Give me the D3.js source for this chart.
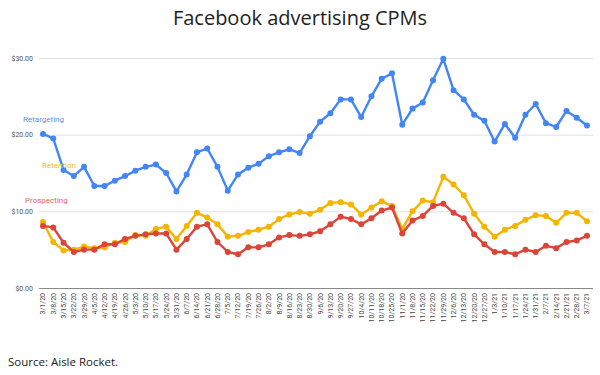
<!DOCTYPE html>
<html>
<head>
<meta charset="utf-8">
<script src="https://cdn.jsdelivr.net/npm/d3@7"></script>
<style>
  body { margin: 0; background: #fff; }
  svg { display: block; }
</style>
</head>
<body>
<div id="wrapper"></div>
<script>
let weeks = ["3/1/20", "3/8/20", "3/15/20", "3/22/20", "3/29/20", "4/5/20", "4/12/20", "4/19/20",
  "4/26/20", "5/3/20", "5/10/20", "5/17/20", "5/24/20", "5/31/20", "6/7/20", "6/14/20", "6/21/20",
  "6/28/20", "7/5/20", "7/12/20", "7/19/20", "7/26/20", "8/2/20", "8/9/20", "8/16/20", "8/23/20",
  "8/30/20", "9/6/20", "9/13/20", "9/20/20", "9/27/20", "10/4/20", "10/11/20", "10/18/20",
  "10/25/20", "11/1/20", "11/8/20", "11/15/20", "11/22/20", "11/29/20", "12/6/20", "12/13/20",
  "12/20/20", "12/27/20", "1/3/21", "1/10/21", "1/17/21", "1/24/21", "1/31/21", "2/7/21",
  "2/14/21", "2/21/21", "2/28/21", "3/7/21"];

let retargeting = [20.1, 19.5, 15.4, 14.6, 15.8, 13.3, 13.3, 14.0, 14.6, 15.3, 15.8, 16.1, 15.0,
  12.6, 14.8, 17.7, 18.2, 15.8, 12.7, 14.8, 15.7, 16.2, 17.2, 17.7, 18.1, 17.6, 19.8, 21.7,
  22.8, 24.6, 24.6, 22.3, 25.0, 27.3, 28.0, 21.3, 23.4, 24.2, 27.1, 29.9, 25.8, 24.6, 22.6,
  21.8, 19.1, 21.4, 19.6, 22.6, 24.0, 21.5, 21.0, 23.1, 22.2, 21.2];

let retention = [8.6, 6.0, 4.9, 5.0, 5.4, 5.2, 5.3, 5.9, 6.0, 6.9, 6.8, 7.7, 8.0, 6.4, 8.1, 9.8,
  9.2, 8.3, 6.7, 6.8, 7.3, 7.6, 8.0, 9.0, 9.6, 9.9, 9.7, 10.2, 11.1, 11.2, 10.9, 9.6, 10.5,
  11.3, 10.7, 7.7, 10.0, 11.4, 11.2, 14.5, 13.5, 12.1, 9.7, 8.0, 6.7, 7.6, 8.1, 8.9, 9.5, 9.4,
  8.5, 9.8, 9.8, 8.7];

let prospecting = [8.1, 7.9, 5.9, 4.7, 5.0, 5.0, 5.7, 5.7, 6.4, 6.8, 7.0, 7.1, 7.1, 5.0, 6.4, 8.0,
  8.3, 6.0, 4.7, 4.4, 5.3, 5.3, 5.7, 6.6, 6.9, 6.8, 7.0, 7.4, 8.3, 9.3, 9.0, 8.3, 9.1, 10.1,
  10.5, 7.1, 8.8, 9.4, 10.7, 11.0, 9.8, 9.1, 7.0, 5.7, 4.7, 4.7, 4.4, 5.0, 4.7, 5.5, 5.2, 6.0,
  6.2, 6.8];

let yTicks = [0, 10, 20, 30];

let series = [
  { name: "Retention", values: retention, color: "#f4b400", label: "#f2b928", lx: 42, ly: 168 },
  { name: "Prospecting", values: prospecting, color: "#db4437", label: "#e06666", lx: 25, ly: 203 },
  { name: "Retargeting", values: retargeting, color: "#4285f4", label: "#5a90e6", lx: 23, ly: 122 }
];

function drawChart() {
  const width = 600;
  const height = 375;

  let svg = d3
    .select("#wrapper")
    .append("svg")
    .attr("width", width)
    .attr("height", height);

  svg
    .append("text")
    .attr("x", 300)
    .attr("y", 25)
    .attr("text-anchor", "middle")
    .attr("font-family", "Open Sans")
    .attr("font-size", 20)
    .attr("fill", "#222")
    .text("Facebook advertising CPMs");

  let xScale = d3.scalePoint().domain(weeks).range([43, 587]);
  let yScale = d3.scaleLinear().domain([0, 30]).range([288, 58]);

  // gridlines + y labels
  let yAxis = svg
    .append("g")
    .attr("transform", "translate(39, 0)")
    .call(
      d3
        .axisLeft(yScale)
        .tickValues(yTicks)
        .tickSize(-554)
        .tickPadding(6)
        .tickFormat(d => "$" + d.toFixed(2))
    );
  yAxis.select(".domain").remove();
  yAxis
    .selectAll(".tick line")
    .attr("stroke", d => (d === 0 ? "#888" : "#e0e0e0"))
    .attr("stroke-width", 1);
  yAxis
    .selectAll(".tick text")
    .attr("font-family", "Roboto, Arial, sans-serif")
    .attr("font-size", 7)
    .attr("fill", "#555");

  // x labels, rotated
  svg
    .append("g")
    .selectAll("text")
    .data(weeks)
    .join("text")
    .attr("transform", d => `translate(${xScale(d)}, 293) rotate(-90)`)
    .attr("dy", "0.35em")
    .attr("text-anchor", "end")
    .attr("font-family", "Roboto, Arial, sans-serif")
    .attr("font-size", 7)
    .attr("fill", "#444")
    .text(d => d);

  let line = d3
    .line()
    .x((d, i) => xScale(weeks[i]))
    .y(d => yScale(d));

  series.forEach(s => {
    let g = svg.append("g");
    g.append("path")
      .datum(s.values)
      .attr("fill", "none")
      .attr("stroke", s.color)
      .attr("stroke-width", 2.4)
      .attr("stroke-linejoin", "round")
      .attr("d", line);
    g.selectAll("circle")
      .data(s.values)
      .join("circle")
      .attr("cx", (d, i) => xScale(weeks[i]))
      .attr("cy", d => yScale(d))
      .attr("r", 3)
      .attr("fill", s.color);
  });

  // series labels sit on top of the lines
  svg
    .append("g")
    .selectAll("text")
    .data(series)
    .join("text")
    .attr("x", d => d.lx)
    .attr("y", d => d.ly)
    .attr("font-family", "Roboto, Arial, sans-serif")
    .attr("font-size", 8)
    .attr("fill", d => d.label)
    .text(d => d.name);

  svg
    .append("text")
    .attr("x", 8)
    .attr("y", 366)
    .attr("font-family", "Open Sans")
    .attr("font-size", 11.5)
    .attr("fill", "#222")
    .text("Source: Aisle Rocket.");
}
drawChart();
</script>
</body>
</html>
